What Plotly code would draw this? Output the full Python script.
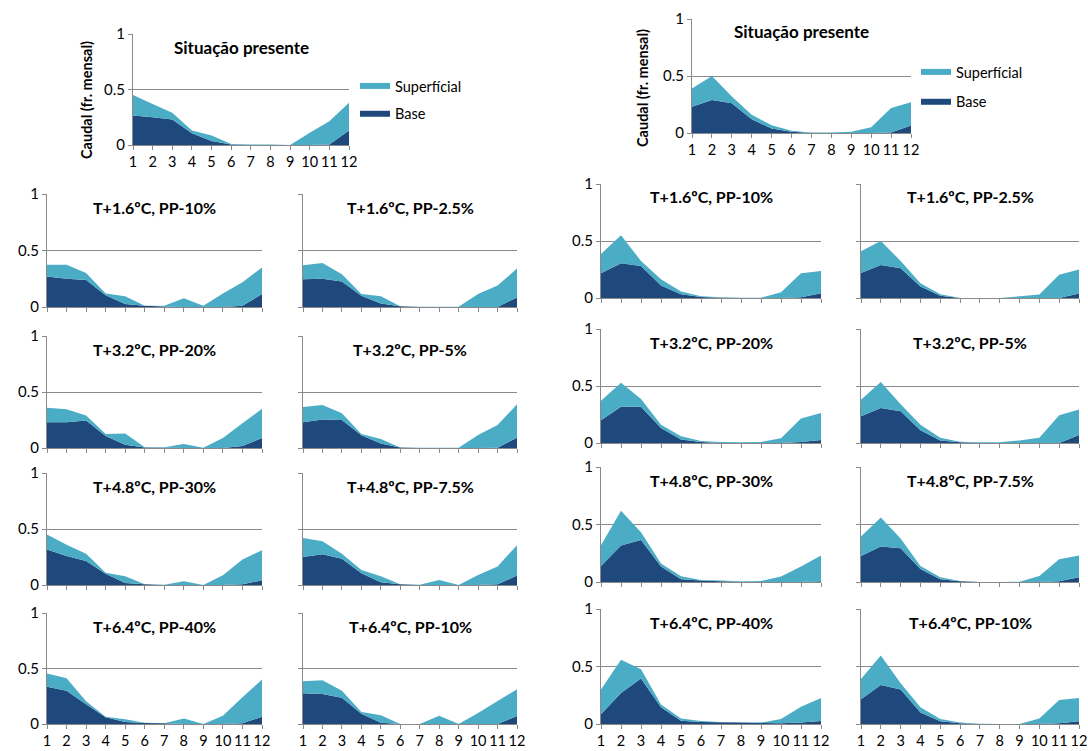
import plotly.graph_objects as go

W, H = 1088, 751

months = list(range(1, 13))
month_labels = [str(m) for m in months]
y_ticks = [0, 0.5, 1]
y_tick_labels = ["0", "0.5", "1"]

scenario_titles = [
    "T+1.6ºC, PP-10%", "T+1.6ºC, PP-2.5%",
    "T+3.2ºC, PP-20%", "T+3.2ºC, PP-5%",
    "T+4.8ºC, PP-30%", "T+4.8ºC, PP-7.5%",
    "T+6.4ºC, PP-40%", "T+6.4ºC, PP-10%",
]

# --- left basin (base flow / surface flow, monthly fraction) ---
esq_presente_base = [0.265, 0.25, 0.23, 0.105, 0.035, 0.005, 0, 0, 0, 0, 0.005, 0.13]
esq_presente_sup = [0.185, 0.12, 0.06, 0.025, 0.05, 0.005, 0.005, 0.005, 0, 0.11, 0.21, 0.25]

esq_t16_pp10_base = [0.27, 0.25, 0.24, 0.105, 0.027, 0.01, 0.005, 0, 0, 0, 0.01, 0.115]
esq_t16_pp10_sup = [0.105, 0.125, 0.06, 0.015, 0.068, 0, 0.005, 0.077, 0.01, 0.12, 0.21, 0.235]
esq_t16_pp25_base = [0.245, 0.25, 0.225, 0.10, 0.03, 0.006, 0, 0, 0, 0, 0, 0.085]
esq_t16_pp25_sup = [0.125, 0.14, 0.065, 0.015, 0.065, 0, 0.003, 0.002, 0.002, 0.115, 0.19, 0.255]

esq_t32_pp20_base = [0.23, 0.23, 0.245, 0.107, 0.03, 0.005, 0.002, 0, 0, 0, 0.018, 0.09]
esq_t32_pp20_sup = [0.13, 0.115, 0.045, 0.018, 0.10, 0.001, 0.004, 0.036, 0.003, 0.09, 0.202, 0.26]
esq_t32_pp5_base = [0.23, 0.255, 0.25, 0.113, 0.04, 0.005, 0, 0, 0, 0, 0.002, 0.092]
esq_t32_pp5_sup = [0.135, 0.13, 0.06, 0.012, 0.04, 0, 0.002, 0.002, 0.002, 0.115, 0.203, 0.298]

esq_t48_pp30_base = [0.317, 0.26, 0.215, 0.10, 0.018, 0.006, 0, 0, 0, 0, 0.006, 0.042]
esq_t48_pp30_sup = [0.133, 0.10, 0.065, 0.01, 0.06, 0, 0.003, 0.033, 0, 0.087, 0.222, 0.268]
esq_t48_pp75_base = [0.25, 0.275, 0.235, 0.105, 0.024, 0.006, 0, 0, 0, 0, 0.006, 0.084]
esq_t48_pp75_sup = [0.17, 0.115, 0.045, 0.03, 0.054, 0, 0.003, 0.045, 0, 0.09, 0.159, 0.272]

esq_t64_pp40_base = [0.335, 0.30, 0.177, 0.06, 0.018, 0.009, 0.006, 0, 0, 0, 0.006, 0.066]
esq_t64_pp40_sup = [0.12, 0.113, 0.027, 0.006, 0.024, 0.003, 0, 0.05, 0, 0.075, 0.234, 0.334]
esq_t64_pp10_base = [0.278, 0.27, 0.237, 0.093, 0.012, 0, 0, 0, 0, 0, 0, 0.072]
esq_t64_pp10_sup = [0.108, 0.125, 0.063, 0.015, 0.066, 0, 0, 0.075, 0, 0.10, 0.207, 0.242]

# --- right basin ---
dir_presente_base = [0.23, 0.29, 0.26, 0.12, 0.04, 0.01, 0, 0, 0, 0, 0.005, 0.065]
dir_presente_sup = [0.16, 0.21, 0.06, 0.04, 0.027, 0.01, 0.005, 0.005, 0.012, 0.05, 0.215, 0.205]

dir_t16_pp10_base = [0.217, 0.305, 0.28, 0.11, 0.032, 0.009, 0.003, 0, 0, 0, 0.006, 0.041]
dir_t16_pp10_sup = [0.168, 0.245, 0.045, 0.055, 0.024, 0.006, 0.003, 0.003, 0.003, 0.05, 0.211, 0.196]
dir_t16_pp25_base = [0.22, 0.29, 0.26, 0.10, 0.02, 0, 0, 0, 0, 0, 0, 0.04]
dir_t16_pp25_sup = [0.19, 0.21, 0.065, 0.03, 0.012, 0, 0, 0, 0.015, 0.03, 0.205, 0.21]

dir_t32_pp20_base = [0.20, 0.317, 0.317, 0.132, 0.03, 0.009, 0, 0, 0, 0, 0.009, 0.026]
dir_t32_pp20_sup = [0.17, 0.211, 0.068, 0.028, 0.029, 0.009, 0.009, 0.006, 0.009, 0.041, 0.205, 0.238]
dir_t32_pp5_base = [0.235, 0.308, 0.279, 0.111, 0.023, 0.006, 0, 0, 0, 0, 0, 0.07]
dir_t32_pp5_sup = [0.145, 0.226, 0.061, 0.05, 0.024, 0.006, 0.006, 0.006, 0.023, 0.047, 0.243, 0.223]

dir_t48_pp30_base = [0.14, 0.317, 0.366, 0.134, 0.023, 0.012, 0.006, 0.003, 0, 0, 0, 0.006]
dir_t48_pp30_sup = [0.18, 0.303, 0.067, 0.026, 0.027, 0.005, 0.006, 0.003, 0.009, 0.047, 0.134, 0.224]
dir_t48_pp75_base = [0.227, 0.308, 0.294, 0.113, 0.023, 0.006, 0, 0, 0, 0, 0.006, 0.041]
dir_t48_pp75_sup = [0.168, 0.253, 0.084, 0.027, 0.018, 0.003, 0, 0, 0.003, 0.052, 0.192, 0.189]

dir_t64_pp40_base = [0.084, 0.27, 0.395, 0.145, 0.029, 0.017, 0.015, 0.012, 0.009, 0.006, 0.012, 0.026]
dir_t64_pp40_sup = [0.216, 0.288, 0.082, 0.024, 0.018, 0.009, 0.002, 0.003, 0.003, 0.038, 0.139, 0.201]
dir_t64_pp10_base = [0.215, 0.34, 0.30, 0.099, 0.023, 0.006, 0, 0, 0, 0, 0.006, 0.023]
dir_t64_pp10_sup = [0.177, 0.256, 0.055, 0.046, 0.021, 0.006, 0.003, 0, 0, 0.047, 0.203, 0.204]

BASE_COLOR = "#1F497D"
SUP_COLOR = "#4BACC6"
AXIS_COLOR = "#898989"
FONT = "Lato"

fig = go.Figure()
n_axes = 0


def add_panel(base, sup, title, x0, x1, ytop, ybot, xlabels, ylabels,
              legend=None, title_size=16):
    """One small stacked-area panel; positions are in pixels of the 1088x751 page."""
    global n_axes
    n_axes += 1
    sfx = "" if n_axes == 1 else str(n_axes)
    xa, ya = "x" + sfx, "y" + sfx
    show = legend is not None
    fig.add_trace(go.Scatter(
        x=months, y=base, name="Base", stackgroup="g" + sfx, mode="none",
        fillcolor=BASE_COLOR, xaxis=xa, yaxis=ya, showlegend=show,
        legend=legend or "legend", legendgroup="base", legendrank=2,
    ))
    fig.add_trace(go.Scatter(
        x=months, y=sup, name="Superfícial", stackgroup="g" + sfx, mode="none",
        fillcolor=SUP_COLOR, xaxis=xa, yaxis=ya, showlegend=show,
        legend=legend or "legend", legendgroup="sup", legendrank=1,
    ))
    fig.update_layout({
        "xaxis" + sfx: dict(
            domain=[x0 / W, x1 / W], anchor=ya, range=[1, 12], automargin=False,
            tickvals=months, ticktext=month_labels, showticklabels=xlabels,
            ticks="outside", ticklen=4, tickcolor=AXIS_COLOR,
            tickfont=dict(size=14.5), tickangle=0,
            showline=True, linecolor=AXIS_COLOR, showgrid=False, zeroline=False,
        ),
        "yaxis" + sfx: dict(
            domain=[1 - ybot / H, 1 - ytop / H], anchor=xa, range=[0, 1],
            automargin=False,
            tickvals=y_ticks, ticktext=y_tick_labels, showticklabels=ylabels,
            ticks="outside", ticklen=4, tickcolor=AXIS_COLOR,
            tickfont=dict(size=15),
            showline=True, linecolor=AXIS_COLOR, showgrid=True,
            gridcolor=AXIS_COLOR, zeroline=False,
        ),
    })
    fig.add_annotation(
        x=(x0 + x1) / 2 / W, y=1 - (ytop + 13) / H, xref="paper", yref="paper",
        xanchor="center", yanchor="middle",
        text=f"<b>{title}</b>", showarrow=False,
        font=dict(size=title_size, color="black"),
    )


# top panels: present situation
add_panel(esq_presente_base, esq_presente_sup, "Situação presente",
          133, 349, 34, 145, True, True, legend="legend", title_size=17)
add_panel(dir_presente_base, dir_presente_sup, "Situação presente",
          692, 911, 19, 133, True, True, legend="legend2", title_size=17)

esq_panels = [
    (esq_t16_pp10_base, esq_t16_pp10_sup), (esq_t16_pp25_base, esq_t16_pp25_sup),
    (esq_t32_pp20_base, esq_t32_pp20_sup), (esq_t32_pp5_base, esq_t32_pp5_sup),
    (esq_t48_pp30_base, esq_t48_pp30_sup), (esq_t48_pp75_base, esq_t48_pp75_sup),
    (esq_t64_pp40_base, esq_t64_pp40_sup), (esq_t64_pp10_base, esq_t64_pp10_sup),
]
dir_panels = [
    (dir_t16_pp10_base, dir_t16_pp10_sup), (dir_t16_pp25_base, dir_t16_pp25_sup),
    (dir_t32_pp20_base, dir_t32_pp20_sup), (dir_t32_pp5_base, dir_t32_pp5_sup),
    (dir_t48_pp30_base, dir_t48_pp30_sup), (dir_t48_pp75_base, dir_t48_pp75_sup),
    (dir_t64_pp40_base, dir_t64_pp40_sup), (dir_t64_pp10_base, dir_t64_pp10_sup),
]

esq_cols = [(47, 262), (303, 517)]
esq_rows = [(194, 307), (336, 448), (473, 585), (613, 724)]
dir_cols = [(601, 821), (861, 1079)]
dir_rows = [(184, 298), (329, 443), (467, 582), (609, 724)]

for k, (base, sup) in enumerate(esq_panels):
    r, c = divmod(k, 2)
    add_panel(base, sup, scenario_titles[k], *esq_cols[c], *esq_rows[r],
              xlabels=(r == 3), ylabels=(c == 0))
for k, (base, sup) in enumerate(dir_panels):
    r, c = divmod(k, 2)
    add_panel(base, sup, scenario_titles[k], *dir_cols[c], *dir_rows[r],
              xlabels=(r == 3), ylabels=(c == 0))

# y-axis titles of the two top panels
for xp, yp in [(86, 100), (642, 88)]:
    fig.add_annotation(
        x=xp / W, y=1 - yp / H, xref="paper", yref="paper", textangle=-90,
        xanchor="center", yanchor="middle",
        text="<b>Caudal (fr. mensal)</b>", showarrow=False,
        font=dict(size=14.5, color="black"),
    )

legend_style = dict(
    traceorder="grouped", bgcolor="rgba(0,0,0,0)",
    font=dict(family=FONT, size=14.5, color="black"), itemwidth=30,
    xanchor="left", yanchor="top",
)
fig.update_layout(
    template="none",
    width=W, height=H,
    margin=dict(l=0, r=0, t=0, b=0, autoexpand=False),
    paper_bgcolor="white", plot_bgcolor="white",
    font=dict(family=FONT, size=14, color="black"),
    legend=dict(x=355 / W, y=1 - 70 / H, tracegroupgap=6, **legend_style),
    legend2=dict(x=916 / W, y=1 - 56 / H, tracegroupgap=8, **legend_style),
)

# drop the browser's default page margin so the figure sits at (0, 0)
fig.write_html(
    "out.html",
    config={"displayModeBar": False},
    post_script="document.body.style.margin = '0';",
)
